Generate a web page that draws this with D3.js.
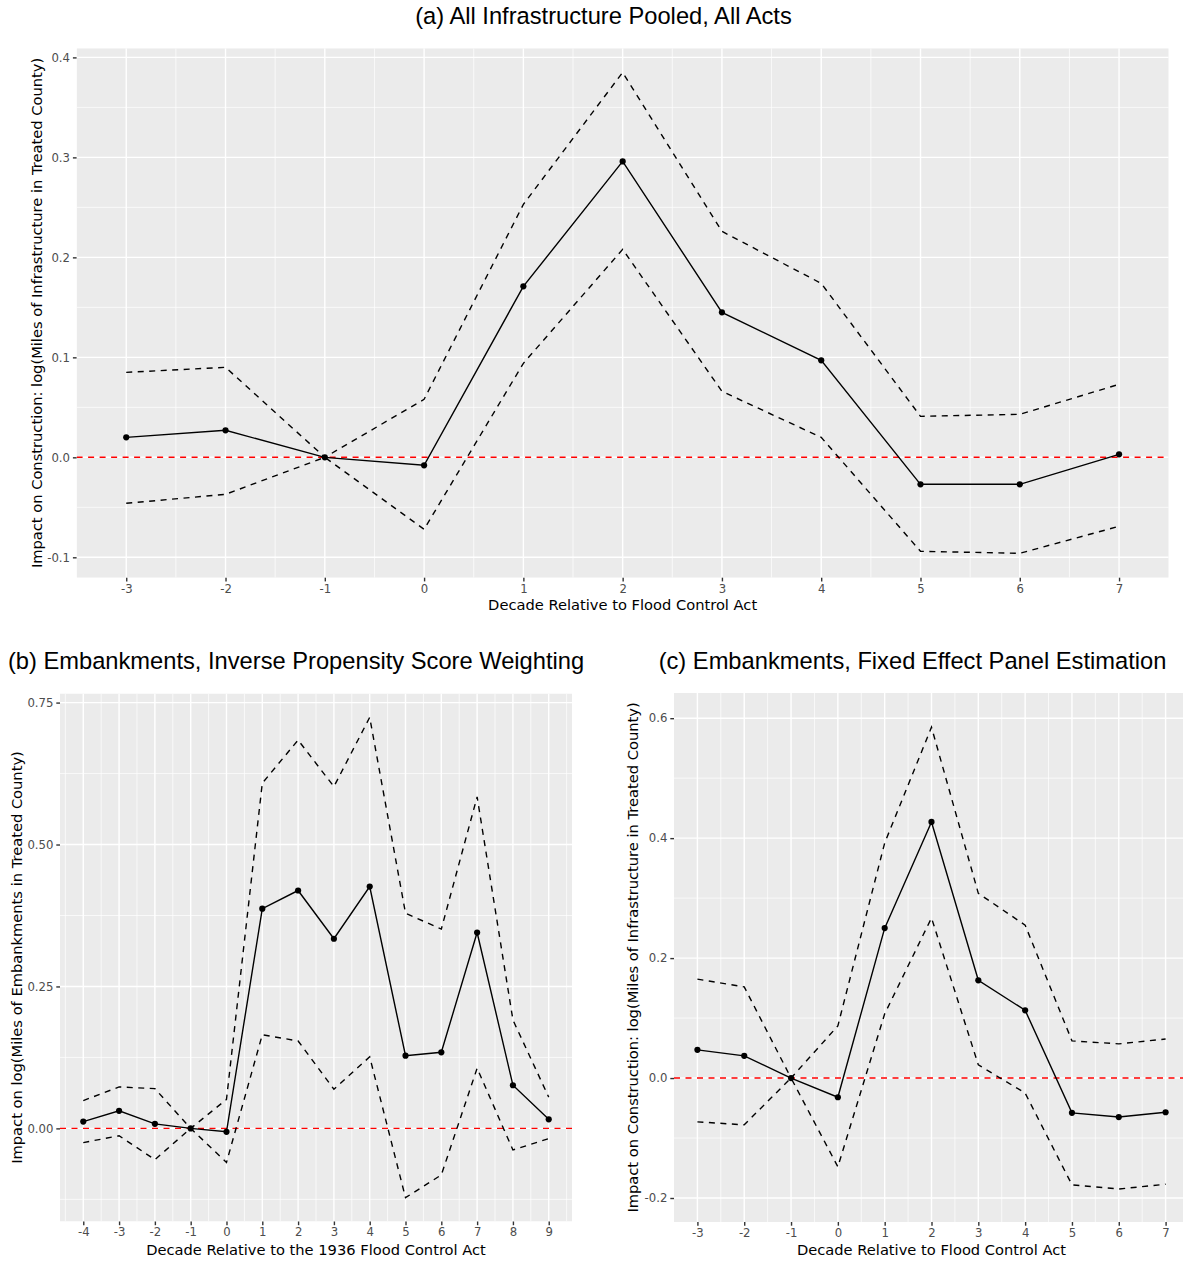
<!DOCTYPE html>
<html>
<head>
	<meta charset="utf-8">
	<script src="https://d3js.org/d3.v7.min.js"></script>
	<style>
		body { margin: 0; background: white; }
		svg { display: block; }
		.tick-label { font-family: "DejaVu Sans", sans-serif; font-size: 11.7px; fill: #4D4D4D; }
		.axis-title { font-family: "DejaVu Sans", sans-serif; font-size: 14.67px; fill: black; }
		.panel-title { font-family: "Liberation Sans", Arial, sans-serif; font-size: 23.7px; fill: black; }
	</style>
</head>
<body>
<script>
// ---- data ----
// (a) all infrastructure pooled, all acts
var decadesA = [-3, -2, -1, 0, 1, 2, 3, 4, 5, 6, 7];
var estA   = [0.020, 0.027, 0, -0.008, 0.171, 0.296, 0.145, 0.097, -0.027, -0.027, 0.003];
var upperA = [0.085, 0.090, 0, 0.058, 0.253, 0.385, 0.226, 0.174, 0.041, 0.043, 0.073];
var lowerA = [-0.046, -0.037, 0, -0.072, 0.094, 0.208, 0.066, 0.020, -0.094, -0.096, -0.069];
var yTicksA = [-0.1, 0, 0.1, 0.2, 0.3, 0.4];

// (b) embankments, IPW
var decadesB = [-4, -3, -2, -1, 0, 1, 2, 3, 4, 5, 6, 7, 8, 9];
var estB   = [0.012, 0.031, 0.008, 0, -0.006, 0.387, 0.419, 0.334, 0.426, 0.128, 0.134, 0.345, 0.076, 0.016];
var upperB = [0.049, 0.073, 0.070, 0, 0.051, 0.608, 0.684, 0.602, 0.724, 0.379, 0.351, 0.584, 0.191, 0.055];
var lowerB = [-0.025, -0.013, -0.055, 0, -0.060, 0.165, 0.154, 0.069, 0.126, -0.122, -0.082, 0.106, -0.038, -0.018];
var yTicksB = [0, 0.25, 0.5, 0.75];

// (c) embankments, fixed effect panel
var decadesC = [-3, -2, -1, 0, 1, 2, 3, 4, 5, 6, 7];
var estC   = [0.047, 0.037, 0, -0.032, 0.250, 0.427, 0.163, 0.113, -0.058, -0.065, -0.057];
var upperC = [0.165, 0.152, 0, 0.087, 0.392, 0.585, 0.308, 0.255, 0.062, 0.057, 0.065];
var lowerC = [-0.073, -0.078, 0, -0.148, 0.107, 0.267, 0.022, -0.025, -0.178, -0.185, -0.177];
var yTicksC = [-0.2, 0, 0.2, 0.4, 0.6];

var width = 1183, height = 1269;

var svg = d3.select("body").append("svg")
	.attr("width", width)
	.attr("height", height);

function rows(xs, est, lo, hi) {
	return xs.map(function(d, i) {
		return {x: d, est: est[i], lo: lo[i], hi: hi[i]};
	});
}

function midpoints(t) {
	var m = [];
	for (var i = 0; i < t.length - 1; i++) m.push((t[i] + t[i + 1]) / 2);
	m.unshift(t[0] - (t[1] - t[0]) / 2);
	m.push(t[t.length - 1] + (t[1] - t[0]) / 2);
	return m;
}

function drawPanel(p) {
	var x = d3.scaleLinear().domain(p.xDomain).range([p.left, p.right]);
	var y = d3.scaleLinear().domain(p.yDomain).range([p.bottom, p.top]);
	var data = rows(p.xs, p.est, p.lo, p.hi);

	var g = svg.append("g");
	var clipId = "clip" + p.id;
	g.append("clipPath").attr("id", clipId)
		.append("rect")
		.attr("x", p.left).attr("y", p.top)
		.attr("width", p.right - p.left).attr("height", p.bottom - p.top);

	var plot = g.append("g").attr("clip-path", "url(#" + clipId + ")");

	// panel background
	plot.append("rect")
		.attr("x", p.left).attr("y", p.top)
		.attr("width", p.right - p.left).attr("height", p.bottom - p.top)
		.attr("fill", "#EBEBEB");

	// minor grid
	var inY = function(v) { return v > p.yDomain[0] && v < p.yDomain[1]; };
	var inX = function(v) { return v > p.xDomain[0] && v < p.xDomain[1]; };
	plot.selectAll(".ymin").data(midpoints(p.yTicks).filter(inY)).enter()
		.append("line")
		.attr("x1", p.left).attr("x2", p.right)
		.attr("y1", y).attr("y2", y)
		.attr("stroke", "white").attr("stroke-width", 0.7);
	plot.selectAll(".xmin").data(midpoints(p.xs).filter(inX)).enter()
		.append("line")
		.attr("y1", p.top).attr("y2", p.bottom)
		.attr("x1", x).attr("x2", x)
		.attr("stroke", "white").attr("stroke-width", 0.7);
	// major grid
	plot.selectAll(".ymaj").data(p.yTicks).enter()
		.append("line")
		.attr("x1", p.left).attr("x2", p.right)
		.attr("y1", y).attr("y2", y)
		.attr("stroke", "white").attr("stroke-width", 1.4);
	plot.selectAll(".xmaj").data(p.xs).enter()
		.append("line")
		.attr("y1", p.top).attr("y2", p.bottom)
		.attr("x1", x).attr("x2", x)
		.attr("stroke", "white").attr("stroke-width", 1.4);

	// zero reference line
	plot.append("line")
		.attr("x1", p.left).attr("x2", p.right)
		.attr("y1", y(0)).attr("y2", y(0))
		.attr("stroke", "red").attr("stroke-width", 1.4)
		.attr("stroke-dasharray", "6,5.5");

	// confidence bounds
	["lo", "hi"].forEach(function(k) {
		plot.append("path")
			.datum(data)
			.attr("fill", "none")
			.attr("stroke", "black")
			.attr("stroke-width", 1.4)
			.attr("stroke-dasharray", "6,5.5")
			.attr("d", d3.line().x(function(d) { return x(d.x); }).y(function(d) { return y(d[k]); }));
	});

	// point estimate
	plot.append("path")
		.datum(data)
		.attr("fill", "none")
		.attr("stroke", "black")
		.attr("stroke-width", 1.4)
		.attr("d", d3.line().x(function(d) { return x(d.x); }).y(function(d) { return y(d.est); }));
	plot.selectAll(".pt").data(data).enter()
		.append("circle")
		.attr("cx", function(d) { return x(d.x); })
		.attr("cy", function(d) { return y(d.est); })
		.attr("r", 3.1)
		.attr("fill", "black");

	// axes (ggplot style: ticks only, no axis line)
	var yAxis = g.append("g")
		.attr("transform", "translate(" + p.left + ",0)")
		.call(d3.axisLeft(y).tickValues(p.yTicks).tickFormat(d3.format(p.fmt)).tickSize(3.7).tickPadding(2.9));
	var xAxis = g.append("g")
		.attr("transform", "translate(0," + p.bottom + ")")
		.call(d3.axisBottom(x).tickValues(p.xs).tickFormat(d3.format("d")).tickSize(3.7).tickPadding(2.9));
	[yAxis, xAxis].forEach(function(a) {
		a.select(".domain").remove();
		a.selectAll(".tick line").attr("stroke", "#333333").attr("stroke-width", 1.4);
		a.selectAll(".tick text").attr("class", "tick-label").attr("fill", null);
		a.attr("font-size", null).attr("font-family", null);
	});
	xAxis.selectAll(".tick text").text(function(d) { return String(d); });
	yAxis.selectAll(".tick text").text(function(d) { return d3.format(p.fmt)(d).replace("\u2212", "-"); });

	// titles
	g.append("text").attr("class", "axis-title")
		.attr("x", (p.left + p.right) / 2).attr("y", p.xTitleY)
		.attr("text-anchor", "middle")
		.text(p.xTitle);
	g.append("text").attr("class", "axis-title")
		.attr("transform", "translate(" + p.yTitleX + "," + (p.top + p.bottom) / 2 + ") rotate(-90)")
		.attr("text-anchor", "middle")
		.attr("dy", "0.35em")
		.text(p.yTitle);
	svg.append("text").attr("class", "panel-title")
		.attr("x", p.titleX).attr("y", p.titleY)
		.attr("text-anchor", "middle")
		.text(p.title);
}

drawPanel({
	id: "a", xs: decadesA, est: estA, lo: lowerA, hi: upperA, yTicks: yTicksA, fmt: ".1f",
	xDomain: [-3.5, 7.5], yDomain: [-0.1204, 0.4091],
	left: 76.6, right: 1168.7, top: 48.3, bottom: 577.7,
	title: "(a) All Infrastructure Pooled, All Acts", titleX: 603.5, titleY: 23.5,
	xTitle: "Decade Relative to Flood Control Act", xTitleY: 609.5,
	yTitle: "Impact on Construction: log(Miles of Infrastructure in Treated County)", yTitleX: 37
});
drawPanel({
	id: "b", xs: decadesB, est: estB, lo: lowerB, hi: upperB, yTicks: yTicksB, fmt: ".2f",
	xDomain: [-4.65, 9.65], yDomain: [-0.164, 0.766],
	left: 60, right: 572, top: 693.5, bottom: 1221.5,
	title: "(b) Embankments, Inverse Propensity Score Weighting", titleX: 296, titleY: 668.5,
	xTitle: "Decade Relative to the 1936 Flood Control Act", xTitleY: 1254.5,
	yTitle: "Impact on log(Miles of Embankments in Treated County)", yTitleX: 17
});
drawPanel({
	id: "c", xs: decadesC, est: estC, lo: lowerC, hi: upperC, yTicks: yTicksC, fmt: ".1f",
	xDomain: [-3.5, 7.5], yDomain: [-0.24, 0.642],
	left: 674, right: 1189, top: 693, bottom: 1222,
	title: "(c) Embankments, Fixed Effect Panel Estimation", titleX: 912.5, titleY: 668.5,
	xTitle: "Decade Relative to Flood Control Act", xTitleY: 1254.5,
	yTitle: "Impact on Construction: log(Miles of Infrastructure in Treated County)", yTitleX: 633
});
</script>
</body>
</html>
